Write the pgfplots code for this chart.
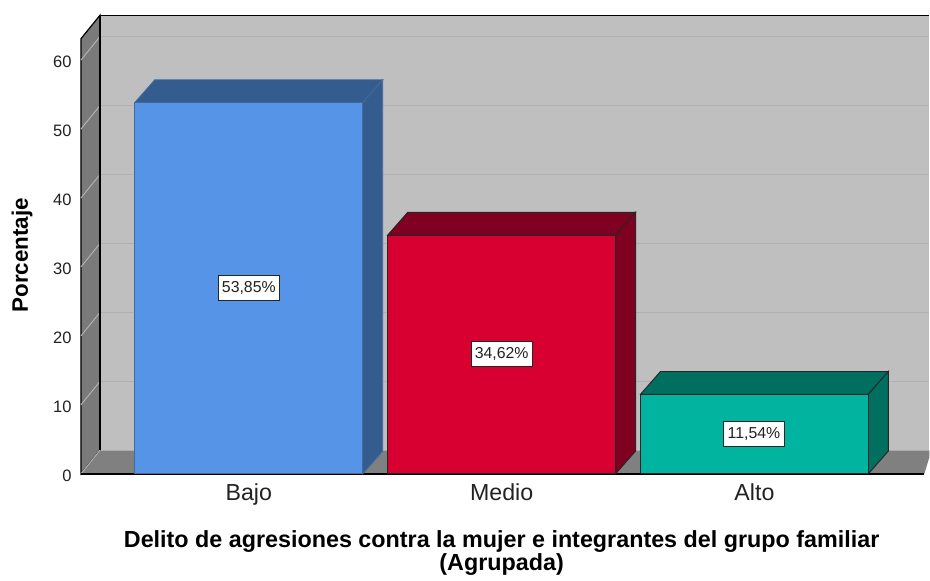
\documentclass[border=0pt]{standalone}
\usepackage{pgfplots}
\pgfplotsset{compat=1.18}
\usepackage{fontspec}
\setmainfont{Liberation Sans}
\definecolor{wall}{HTML}{BFBFBF}
\definecolor{lwall}{HTML}{7A7A7A}
\definecolor{floorc}{HTML}{808080}
\definecolor{gridb}{HTML}{B0B0B0}
\definecolor{gridl}{HTML}{B4B4B4}
\definecolor{blueF}{HTML}{5594E6}
\definecolor{blueS}{HTML}{345C8F}
\definecolor{blueE}{HTML}{3F6A9E}
\definecolor{redF}{HTML}{D70030}
\definecolor{redS}{HTML}{7F0020}
\definecolor{tealF}{HTML}{00B4A0}
\definecolor{tealS}{HTML}{006F60}
\definecolor{txt}{HTML}{222222}
\begin{document}
\begin{tikzpicture}
\begin{axis}[
  scale only axis, width=636.75pt, height=355.5pt,
  xmin=81, xmax=930, ymin=0, ymax=68.7,
  clip=false,
  axis line style={draw=none},
  major tick length=0pt,
  xtick={249,502,755}, xticklabels={Bajo,Medio,Alto},
  ytick={0,10,20,30,40,50,60},
  /pgf/number format/assume math mode=true,
  tick label style={text=txt},
  xticklabel style={font=\fontsize{17.4}{18}\selectfont, yshift=-4pt},
  yticklabel style={font=\fontsize{12.4}{13}\selectfont, xshift=-3.5pt, yshift=-1.5pt},
  xlabel={Delito de agresiones contra la mujer e integrantes del grupo familiar\\(Agrupada)},
  xlabel style={at={(axis cs:502,-11.55)}, anchor=center, align=center,
     font=\fontsize{17.5}{17.2}\selectfont\bfseries},
  ylabel={Porcentaje},
  ylabel style={at={(axis cs:22,31.7)}, anchor=center, rotate=0,
     font=\fontsize{16.8}{17}\selectfont\bfseries},
]
% fixed page extent
\path (axis cs:0,-14.49) rectangle (axis cs:930,68.7);
% walls
\addplot[draw=none,fill=wall] coordinates {(100.5,3.4)(100.5,66.4)(930,66.4)(930,3.4)} --cycle;
\addplot[black,line width=0.9pt] coordinates {(100,66.5)(930,66.5)};
\addplot[fill=lwall,draw=black,line width=0.9pt] coordinates {(81,0)(81,63.1)(100,66.5)(100,3.4)} --cycle;
\addplot[fill=floorc,draw=none] coordinates {(81,0)(100,3.4)(930,3.4)(930,2.4)(925,0)} --cycle;
% back-wall gridlines
\addplot[gridb,line width=1pt] coordinates {(100,13.4)(930,13.4)};
\addplot[gridb,line width=1pt] coordinates {(100,23.4)(930,23.4)};
\addplot[gridb,line width=1pt] coordinates {(100,33.4)(930,33.4)};
\addplot[gridb,line width=1pt] coordinates {(100,43.4)(930,43.4)};
\addplot[gridb,line width=1pt] coordinates {(100,53.4)(930,53.4)};
\addplot[gridb,line width=1pt] coordinates {(100,63.4)(930,63.4)};
% left-wall gridlines
\addplot[gridl,line width=0.7pt] coordinates {(81,0)(100,3.4)};
\addplot[gridl,line width=0.7pt] coordinates {(81,10)(100,13.4)};
\addplot[gridl,line width=0.7pt] coordinates {(81,20)(100,23.4)};
\addplot[gridl,line width=0.7pt] coordinates {(81,30)(100,33.4)};
\addplot[gridl,line width=0.7pt] coordinates {(81,40)(100,43.4)};
\addplot[gridl,line width=0.7pt] coordinates {(81,50)(100,53.4)};
\addplot[gridl,line width=0.7pt] coordinates {(81,60)(100,63.4)};
% front baseline
\addplot[black,line width=1.1pt] coordinates {(81,0)(925,0)};
\addplot[black,line width=0.9pt] coordinates {(100,3.4)(100,66.5)};
% bar Bajo
\addplot[fill=blueS,draw=blueE,line width=0.7pt] coordinates {(135,53.85)(155,57.15)(383,57.15)(363,53.85)} --cycle;
\addplot[fill=blueS,draw=blueE,line width=0.7pt] coordinates {(363,0)(383,3.3)(383,57.15)(363,53.85)} --cycle;
\addplot[ybar,bar width=171pt,bar shift=0pt,fill=blueF,draw=blueE,line width=0.7pt] coordinates {(249,53.85)};
% bar Medio
\addplot[fill=redS,draw=black!85,line width=0.7pt] coordinates {(388,34.62)(408,37.92)(636,37.92)(616,34.62)} --cycle;
\addplot[fill=redS,draw=black!85,line width=0.7pt] coordinates {(616,0)(636,3.3)(636,37.92)(616,34.62)} --cycle;
\addplot[ybar,bar width=171pt,bar shift=0pt,fill=redF,draw=black!85,line width=0.7pt] coordinates {(502,34.62)};
% bar Alto
\addplot[fill=tealS,draw=black!85,line width=0.7pt] coordinates {(641,11.54)(661,14.84)(889,14.84)(869,11.54)} --cycle;
\addplot[fill=tealS,draw=black!85,line width=0.7pt] coordinates {(869,0)(889,3.3)(889,14.84)(869,11.54)} --cycle;
\addplot[ybar,bar width=171pt,bar shift=0pt,fill=tealF,draw=black!85,line width=0.7pt] coordinates {(755,11.54)};
% value labels
\tikzset{vl/.style={fill=white,draw=black!85,line width=0.6pt,inner sep=0pt,minimum width=46pt,minimum height=18.5pt,
   font=\fontsize{11.9}{13}\selectfont,text=txt}}
\node[vl] at (axis cs:249,26.95) {53,85\%};
\node[vl] at (axis cs:502,17.35) {34,62\%};
\node[vl] at (axis cs:754.5,5.8) {11,54\%};
\end{axis}
\end{tikzpicture}
\end{document}
